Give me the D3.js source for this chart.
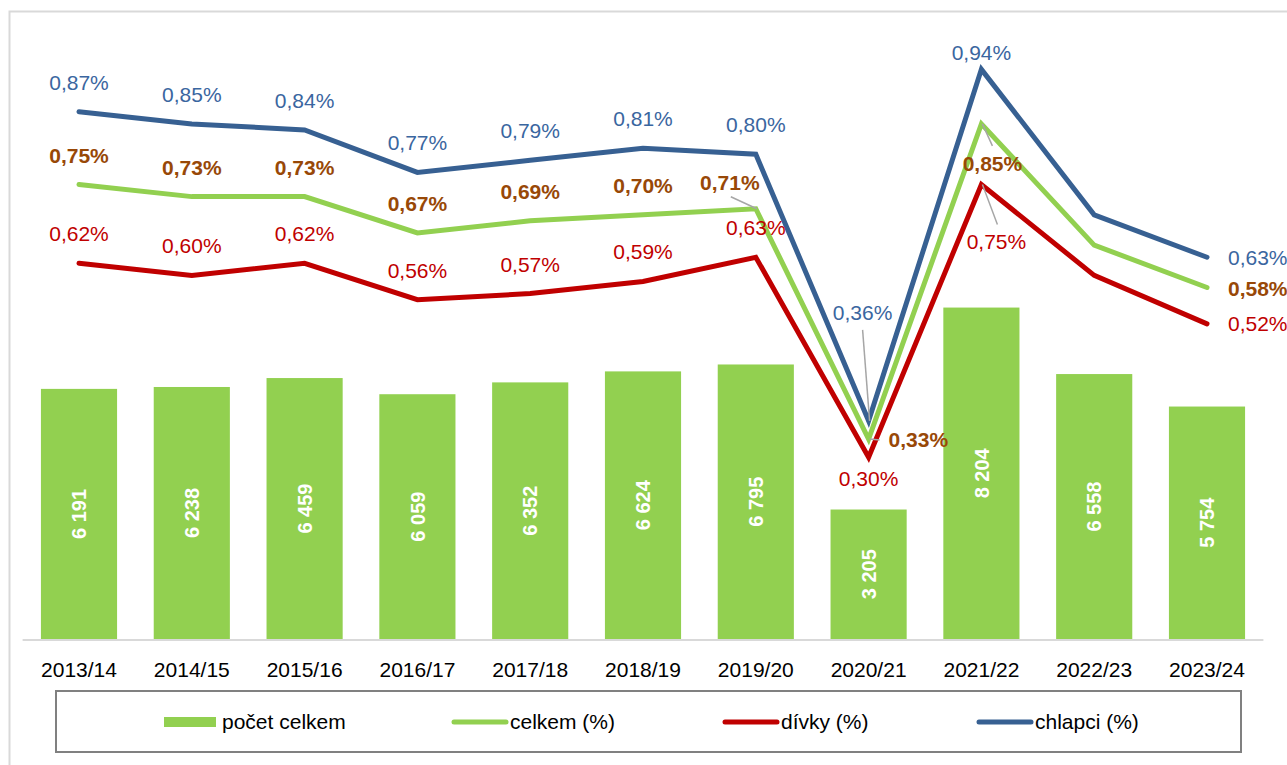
<!DOCTYPE html>
<html>
<head>
<meta charset="utf-8">
<script src="https://cdn.jsdelivr.net/npm/d3@7"></script>
<style>
  html, body { margin: 0; padding: 0; background: #fff; }
  svg { display: block; font-family: "Liberation Sans", Arial, sans-serif; }
</style>
</head>
<body>
<div id="root"></div>
<script>
const width = 1287;
const height = 765;

// data
const years = ["2013/14", "2014/15", "2015/16", "2016/17", "2017/18", "2018/19",
               "2019/20", "2020/21", "2021/22", "2022/23", "2023/24"];
const pocetCelkem = [6191, 6238, 6459, 6059, 6352, 6624, 6795, 3205, 8204, 6558, 5754];
const celkemPct = [0.75, 0.73, 0.73, 0.67, 0.69, 0.70, 0.71, 0.33, 0.85, 0.65, 0.58];
const divkyPct  = [0.62, 0.60, 0.62, 0.56, 0.57, 0.59, 0.63, 0.30, 0.75, 0.60, 0.52];
const chlapciPct = [0.87, 0.85, 0.84, 0.77, 0.79, 0.81, 0.80, 0.36, 0.94, 0.70, 0.63];
// 2022/23 has no data labels in the original
const hiddenLabels = ["2022/23"];

const fmtCount = v => d3.format(",")(v).replace(/,/g, " ");
const fmtPct = v => v.toFixed(2).replace(".", ",") + "%";

const plotTop = 33;
const plotBottom = 639;

const xScale = d3.scaleBand()
      .domain(years)
      .range([22.6, 1263.4])
      .paddingInner(0.325)
      .paddingOuter(0.1625);

const yBars = d3.scaleLinear()
      .domain([0, 15000])
      .range([plotBottom, plotTop]);

const yPct = d3.scaleLinear()
      .domain([0, 1])
      .range([plotBottom, plotTop]);

const cx = d => xScale(d) + xScale.bandwidth() / 2;

const svg = d3.select("#root")
      .append("svg")
      .attr("width", width)
      .attr("height", height);

// chart frame
svg.append("rect")
  .attr("x", 9.5).attr("y", 11.5)
  .attr("width", width + 20).attr("height", height + 20)
  .attr("fill", "#fff")
  .attr("stroke", "#d9d9d9")
  .attr("stroke-width", 2);

// bars
svg.selectAll("rect.bar")
  .data(pocetCelkem)
  .join("rect")
  .attr("class", "bar")
  .attr("x", (d, i) => xScale(years[i]))
  .attr("y", d => yBars(d))
  .attr("width", xScale.bandwidth())
  .attr("height", d => plotBottom - yBars(d))
  .attr("fill", "#92d050");

// bar labels
svg.selectAll("text.barlabel")
  .data(pocetCelkem)
  .join("text")
  .attr("class", "barlabel")
  .attr("transform", (d, i) => `translate(${cx(years[i])},${(yBars(d) + plotBottom) / 2}) rotate(-90)`)
  .attr("text-anchor", "middle")
  .attr("dy", "0.36em")
  .attr("font-size", "20px")
  .attr("font-weight", "bold")
  .attr("fill", "#fff")
  .text(d => fmtCount(d));

// x axis
const xAxis = svg.append("g")
  .attr("transform", `translate(0,${plotBottom + 1})`)
  .call(d3.axisBottom(xScale).tickSize(0).tickPadding(22));
xAxis.select(".domain").attr("stroke", "#d9d9d9").attr("stroke-width", 2).attr("d", "M22.6,0H1263.4");
xAxis.selectAll("text")
  .attr("font-family", "Liberation Sans, Arial, sans-serif")
  .attr("font-size", "21px")
  .attr("fill", "#000");

// lines
const series = [
  { name: "chlapci (%)", values: chlapciPct, color: "#376092", label: "#3a66a0", bold: false },
  { name: "celkem (%)", values: celkemPct, color: "#92d050", label: "#984807", bold: true },
  { name: "dívky (%)", values: divkyPct, color: "#c00000", label: "#c00000", bold: false }
];

const line = d3.line()
  .x((d, i) => cx(years[i]))
  .y(d => yPct(d));

svg.selectAll("path.series")
  .data([series[2], series[1], series[0]])
  .join("path")
  .attr("class", "series")
  .attr("d", s => line(s.values))
  .attr("fill", "none")
  .attr("stroke", s => s.color)
  .attr("stroke-width", 5)
  .attr("stroke-linejoin", "miter")
  .attr("stroke-linecap", "round");

// label placement: default above the point; a few are moved like in the original
const labelOffsets = {
  "chlapci (%)": { "2020/21": { dx: -6, dy: -101, lead: [-6, -91] }, "2021/22": { dx: 0, dy: -9 },
                   "2023/24": { dx: 21, dy: 8, anchor: "start" } },
  "celkem (%)": { "2019/20": { dx: -26, dy: -19, lead: [-25, -12] },
                  "2020/21": { dx: 20, dy: 8, anchor: "start", lead: [11, 1] },
                  "2021/22": { dx: 11, dy: 47, lead: [11, 22] },
                  "2023/24": { dx: 21, dy: 8, anchor: "start" } },
  "dívky (%)": { "2020/21": { dx: 0, dy: 29 },
                 "2021/22": { dx: 15, dy: 64, lead: [16, 40] },
                 "2023/24": { dx: 21, dy: 7, anchor: "start" } }
};

series.forEach(s => {
  const offs = labelOffsets[s.name];
  const pts = s.values.map((v, i) => ({ v, year: years[i], x: cx(years[i]), y: yPct(v), o: offs[years[i]] || { dx: 0, dy: -22 } }))
    .filter(p => !hiddenLabels.includes(p.year));

  svg.selectAll(null)
    .data(pts.filter(p => p.o.lead))
    .join("line")
    .attr("x1", p => p.x + 1).attr("y1", p => p.y)
    .attr("x2", p => p.x + p.o.lead[0]).attr("y2", p => p.y + p.o.lead[1])
    .attr("stroke", "#a6a6a6")
    .attr("stroke-width", 1.5);

  svg.selectAll(null)
    .data(pts)
    .join("text")
    .attr("x", p => p.x + p.o.dx)
    .attr("y", p => p.y + p.o.dy)
    .attr("text-anchor", p => p.o.anchor || "middle")
    .attr("font-size", "21px")
    .attr("font-weight", s.bold ? "bold" : "normal")
    .attr("fill", s.label)
    .text(p => fmtPct(p.v));
});

// legend
const legend = svg.append("g");
legend.append("rect")
  .attr("x", 56).attr("y", 691)
  .attr("width", 1185).attr("height", 61)
  .attr("fill", "#fff")
  .attr("stroke", "#808080")
  .attr("stroke-width", 2);

const legendItems = [
  { name: "počet celkem", color: "#92d050", type: "bar", x: 164 },
  { name: "celkem (%)", color: "#92d050", type: "line", x: 452 },
  { name: "dívky (%)", color: "#c00000", type: "line", x: 723 },
  { name: "chlapci (%)", color: "#376092", type: "line", x: 977 }
];

legendItems.forEach(it => {
  if (it.type === "bar") {
    legend.append("rect").attr("x", it.x).attr("y", 717).attr("width", 52).attr("height", 10).attr("fill", it.color);
  } else {
    legend.append("line").attr("x1", it.x + 2).attr("x2", it.x + 54).attr("y1", 722).attr("y2", 722)
      .attr("stroke", it.color).attr("stroke-width", 5).attr("stroke-linecap", "round");
  }
  legend.append("text")
    .attr("x", it.x + 58).attr("y", 729)
    .attr("font-size", "21px")
    .attr("fill", "#000")
    .text(it.name);
});
</script>
</body>
</html>
